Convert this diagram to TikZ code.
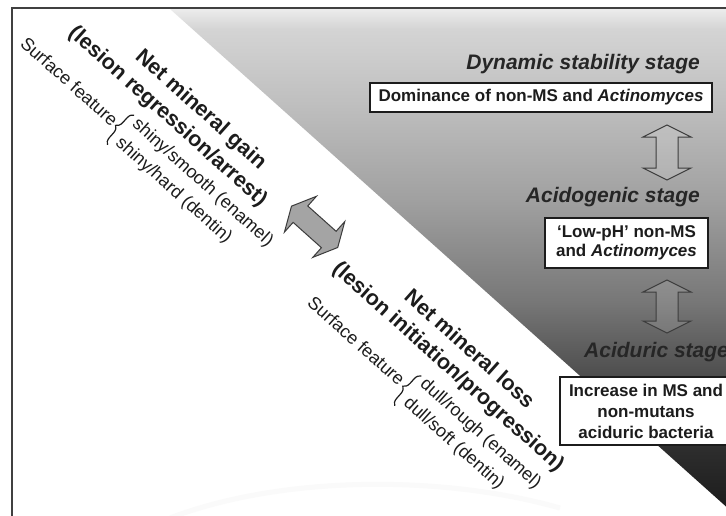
\documentclass[tikz,border=0pt]{standalone}
\usepackage{fontspec}
\setmainfont{Liberation Sans}
\usetikzlibrary{decorations.pathreplacing}

\definecolor{ink}{HTML}{1C1C1C}
\definecolor{titleink}{HTML}{262626}
\definecolor{framegray}{HTML}{404040}
\definecolor{arrowline}{HTML}{3C3C3C}
\definecolor{arrowfill}{HTML}{A4A4A4}
% grey ramp of the stage panel, light at the top, near black at the bottom
\definecolor{ga}{HTML}{ECECEC}
\definecolor{gb}{HTML}{D4D4D4}
\definecolor{gc}{HTML}{C0C0C0}
\definecolor{gd}{HTML}{A0A0A0}
\definecolor{ge}{HTML}{777777}
\definecolor{gf}{HTML}{4A4A4A}
\definecolor{gg}{HTML}{2C2C2C}
\definecolor{gh}{HTML}{181818}

\pgfdeclareverticalshading{stagegrad}{100bp}{%
  color(0bp)=(gh); color(25bp)=(gh); color(31.86bp)=(gg);
  color(38.73bp)=(gf); color(46.57bp)=(ge); color(56.37bp)=(gd);
  color(66.18bp)=(gc); color(73.04bp)=(gb); color(75bp)=(ga);
  color(100bp)=(ga)}

\tikzset{
  pics/dblarrow/.style={code={
    \path[pic actions]
      (-#1/2,0) -- (-#1/2+12,-24) -- (-#1/2+12,-11) -- (#1/2-12,-11)
      -- (#1/2-12,-24) -- (#1/2,0) -- (#1/2-12,24) -- (#1/2-12,11)
      -- (-#1/2+12,11) -- (-#1/2+12,24) -- cycle;
  }},
  frame/.style={draw=framegray, line width=1.6pt},
  title/.style={font=\fontsize{21}{25}\selectfont\bfseries\itshape,
    text=titleink, inner sep=0pt},
  boxed/.style={draw=ink, line width=1.3pt, fill=white, text=ink,
    font=\fontsize{17}{20}\selectfont\bfseries, align=center, inner sep=0pt},
  bigtxt/.style={font=\fontsize{21.5}{25}\selectfont\bfseries, text=ink,
    inner sep=0pt},
  smalltxt/.style={font=\fontsize{18}{21}\selectfont, text=ink, inner sep=0pt},
  bracestyle/.style={draw=ink, line width=1.2pt, decorate,
    decoration={brace, amplitude=7pt}},
  stagearrow/.style={draw=arrowline, line width=1pt, fill=white,
    fill opacity=0.12},
  shiftarrow/.style={draw=arrowline, line width=1pt, fill=arrowfill},
}

\begin{document}
\begin{tikzpicture}[x=1pt, y=-1pt]
\useasboundingbox (0,0) rectangle (726,515);
\clip (0,0) rectangle (726,515);
\fill[white] (0,0) rectangle (726,515);

% shaded stage panel above the diagonal
\shade[shading=stagegrad] (170,9) -- (745,9) -- (745,523.5) -- cycle;

% faint swoosh along the bottom
\draw[black!2, line width=5pt] (170,518) .. controls (280,476) and (440,474) .. (560,508);

% frame
\draw[frame] (730,8) -- (12,8) -- (12,520);

% ---- stages on the right ----
\node[title, anchor=east] (dyn) at (700,64) {Dynamic stability stage};
\node[boxed, minimum width=342pt, minimum height=29pt] (dynbox) at (541,97.5)
  {Dominance of non-MS and \textit{Actinomyces}};

\node[title, anchor=east] (acg) at (700,197) {Acidogenic stage};
\node[boxed, font=\fontsize{17}{19}\selectfont\bfseries,
  minimum width=163pt, minimum height=50pt] (acgbox) at (626.5,243)
  {‘Low-pH’ non-MS\\and \textit{Actinomyces}};

\node[title, anchor=west] (acd) at (584,352) {Aciduric stage};
\node[boxed, font=\fontsize{17}{21}\selectfont\bfseries,
  minimum width=172pt, minimum height=68pt] (acdbox) at (646,411)
  {Increase in MS and\\non-mutans\\aciduric bacteria};

% transitions between stages
\pic[stagearrow, rotate=90] (dynacg) at (667,152.5) {dblarrow=55};
\pic[stagearrow, rotate=90] (acgacd) at (667,306.5) {dblarrow=53};

% ---- mineral balance along the diagonal ----
\begin{scope}[shift={(170,9)}, rotate=-41.8, transform shape]
  \node[bigtxt] (gain) at (90,55) {Net mineral gain};
  \node[bigtxt] (gainsub) at (70,82) {(lesion regression/arrest)};
  \node[smalltxt, anchor=east] (surfA) at (35,121) {Surface feature};
  \draw[bracestyle] (44,143) -- (44,103);
  \node[smalltxt, anchor=west] (shinyA) at (49,108) {shiny/smooth (enamel)};
  \node[smalltxt, anchor=west] (shinyB) at (49,133) {shiny/hard (dentin)};

  \pic[shiftarrow] (gainloss) at (253,66) {dblarrow=62};

  \node[bigtxt] (loss) at (450,53) {Net mineral loss};
  \node[bigtxt] (losssub) at (446,82) {(lesion initiation/progression)};
  \node[smalltxt, anchor=east] (surfB) at (422,123) {Surface feature};
  \draw[bracestyle] (432,146) -- (432,106);
  \node[smalltxt, anchor=west] (dullA) at (437,110) {dull/rough (enamel)};
  \node[smalltxt, anchor=west] (dullB) at (437,135) {dull/soft (dentin)};
\end{scope}
\end{tikzpicture}
\end{document}
